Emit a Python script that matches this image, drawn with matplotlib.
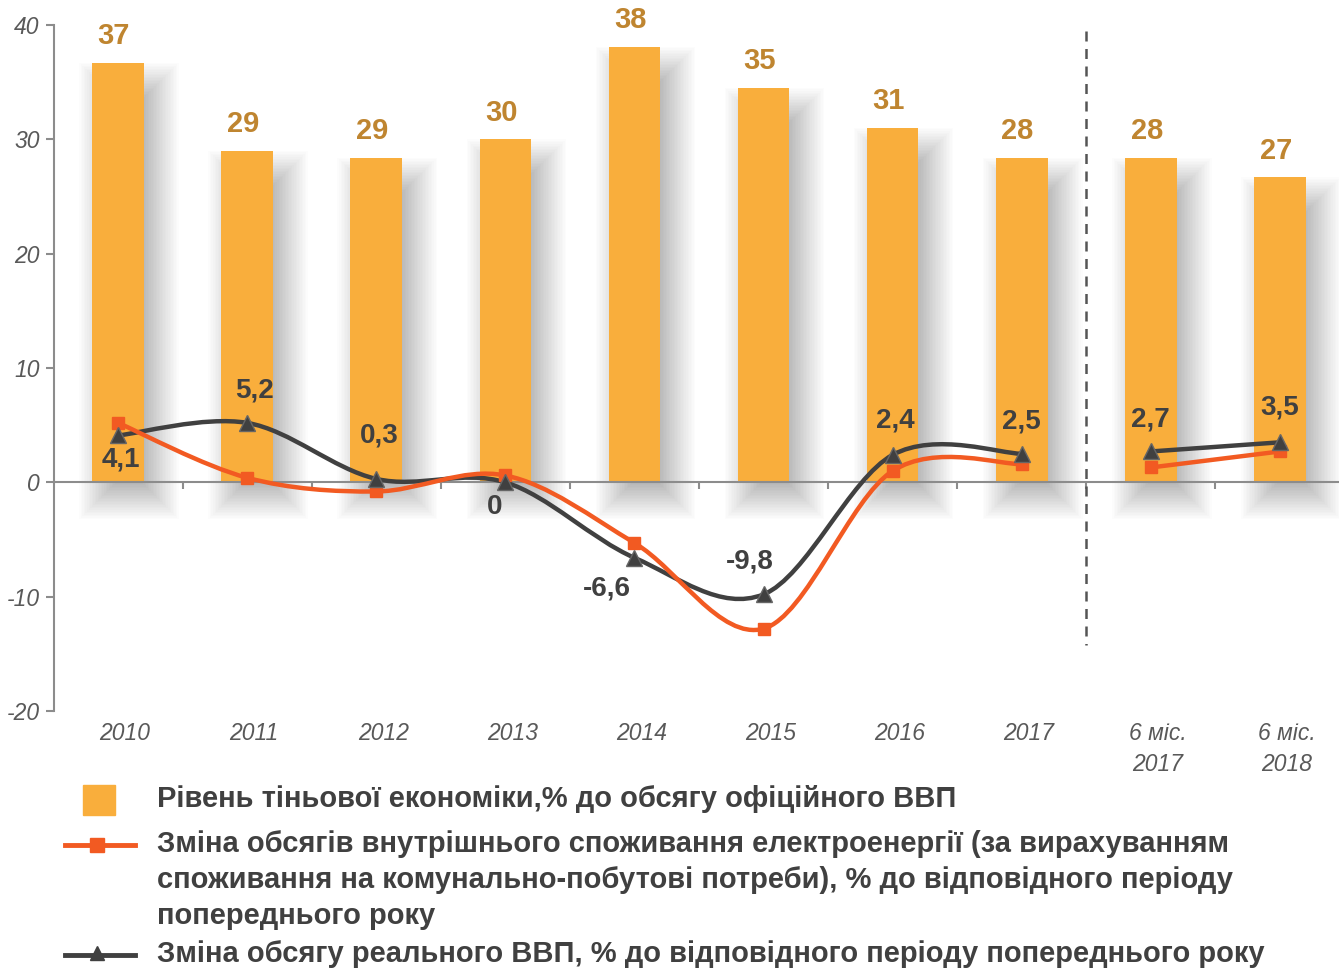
import matplotlib
matplotlib.use('Agg')
import matplotlib.pyplot as plt
from matplotlib.path import Path
from matplotlib.patches import PathPatch, Rectangle
from matplotlib.lines import Line2D
import numpy as np

# chart data
categories = ['2010', '2011', '2012', '2013', '2014', '2015', '2016', '2017',
              '6 міс.\n2017', '6 міс.\n2018']
shadow_level = [36.7, 29.0, 28.4, 30.0, 38.1, 34.5, 31.0, 28.4, 28.4, 26.7]
shadow_labels = ['37', '29', '29', '30', '38', '35', '31', '28', '28', '27']
electricity = [5.2, 0.4, -0.8, 0.6, -5.3, -12.8, 1.0, 1.6, 1.3, 2.7]
gdp = [4.1, 5.2, 0.3, 0.0, -6.6, -9.8, 2.4, 2.5, 2.7, 3.5]
gdp_labels = ['4,1', '5,2', '0,3', '0', '-6,6', '-9,8', '2,4', '2,5', '2,7', '3,5']
yticks = [-20, -10, 0, 10, 20, 30, 40]

legend_labels = [
    'Рівень тіньової економіки,% до обсягу офіційного ВВП',
    'Зміна обсягів внутрішнього споживання електроенергії (за вирахуванням\n'
    'споживання на комунально-побутові потреби), % до відповідного періоду\n'
    'попереднього року',
    'Зміна обсягу реального ВВП, % до відповідного періоду попереднього року',
]

# label offsets (points) for the GDP labels
gdp_offsets = [(2, -17), (5, 23), (2, 31), (-8, -18), (-20, -22), (-10, 24),
               (2, 25), (0, 23), (0, 23), (0, 25)]

BAR = '#F9AE3C'
BAR_TXT = '#BF8530'
RED = '#F25A22'
GREY = '#404040'
AXIS = '#8C8C8C'
TICK_TXT = '#595959'

W, H = 1339, 971
fig = plt.figure(figsize=(W / 100, H / 100), dpi=100)
ax = fig.add_axes([53.5 / W, 260 / H, 1291 / W, 686 / H])
ax.set_xlim(-0.5, 9.5)
ax.set_ylim(-20, 40)

x = np.arange(len(categories))
bw = 0.4
pxx = 1291 / 10.0   # pixels per x unit
pxy = 686 / 60.0    # pixels per y unit

# soft bar shadows (stacked translucent rectangles)
sx, sy, R = 11, 13, 24
for i, h in enumerate(shadow_level):
    for e in np.linspace(-R, R, 32):
        left = i - bw / 2 + (sx - e) / pxx
        right = i + bw / 2 + (sx + e) / pxx
        bot = -(sy + e) / pxy
        top = h - (24 - e) / pxy
        if right > left and top > bot:
            ax.add_patch(Rectangle((left, bot), right - left, top - bot,
                                   facecolor='black', alpha=0.013,
                                   edgecolor='none', zorder=1))

ax.bar(x, shadow_level, width=bw, color=BAR, zorder=2)
for i, h in enumerate(shadow_level):
    ax.annotate(shadow_labels[i], (i, h), xytext=(-3, 9), textcoords='offset points',
                ha='center', va='bottom', fontsize=21, fontweight='bold',
                color=BAR_TXT, family='Liberation Sans')


def smooth_path(xs, ys):
    pts = np.column_stack([xs, ys]).astype(float)
    n = len(pts)
    verts = [pts[0]]
    codes = [Path.MOVETO]
    for i in range(n - 1):
        p0 = pts[i - 1] if i > 0 else pts[i]
        p3 = pts[i + 2] if i + 2 < n else pts[i + 1]
        verts += [pts[i] + (pts[i + 1] - p0) / 6, pts[i + 1] - (p3 - pts[i]) / 6, pts[i + 1]]
        codes += [Path.CURVE4] * 3
    return Path(verts, codes)


for seg in (slice(0, 8), slice(8, 10)):
    ax.add_patch(PathPatch(smooth_path(x[seg], gdp[seg]), fill=False,
                           edgecolor=GREY, lw=3.2, zorder=3, capstyle='round'))
    ax.add_patch(PathPatch(smooth_path(x[seg], electricity[seg]), fill=False,
                           edgecolor=RED, lw=3.2, zorder=4, capstyle='round'))

ax.plot(x, electricity, ls='none', marker='s', ms=9, color=RED, zorder=5)
ax.plot(x, gdp, ls='none', marker='^', ms=11, color=GREY, mec='#666666', mew=1, zorder=6)

for i, v in enumerate(gdp):
    ax.annotate(gdp_labels[i], (i, v), xytext=gdp_offsets[i], textcoords='offset points',
                ha='center', va='center', fontsize=20, fontweight='bold', color=GREY,
                family='Liberation Sans', zorder=7)

# dashed separator
ax.plot([7.5, 7.5], [39.5, -14.2], ls=(0, (4, 3)), color='#555555', lw=1.8, zorder=3)

# axes styling
for s in ['top', 'right']:
    ax.spines[s].set_visible(False)
ax.spines['left'].set_color(AXIS)
ax.spines['left'].set_linewidth(1.5)
ax.spines['bottom'].set_position(('data', 0))
ax.spines['bottom'].set_color(AXIS)
ax.spines['bottom'].set_linewidth(1.5)
ax.spines['bottom'].set_zorder(2.5)
ax.set_yticks(yticks)
ax.set_yticklabels([str(t) for t in yticks], fontsize=16.5, style='italic',
                   color=TICK_TXT, family='Liberation Sans')
ax.tick_params(axis='y', length=6, width=1.5, color=AXIS, pad=4)
ax.set_xticks(np.arange(0.5, 9.5, 1.0))
ax.set_xticklabels([])
ax.tick_params(axis='x', length=5, width=1.5, color=AXIS, direction='out')

for i, c in enumerate(categories):
    ax.annotate(c, (i, 0), xycoords=('data', 'axes fraction'), xytext=(5, -8),
                textcoords='offset points', ha='center', va='top', fontsize=16.5,
                style='italic', color=TICK_TXT, linespacing=1.45,
                family='Liberation Sans')

# legend drawn by hand
fig.patches.append(Rectangle((83 / W, 1 - 815 / H), 32 / W, 30 / H, color=BAR,
                             transform=fig.transFigure, figure=fig))
fig.add_artist(Line2D([65 / W, 135 / W], [1 - 845 / H] * 2, color=RED, lw=3.5))
fig.add_artist(Line2D([97 / W], [1 - 845 / H], color=RED, marker='s', ms=10))
fig.add_artist(Line2D([65 / W, 135 / W], [1 - 955 / H] * 2, color=GREY, lw=3.5))
fig.add_artist(Line2D([97 / W], [1 - 953 / H], color=GREY, marker='^', ms=10))

legend_y = [800, 845, 955]
for lab, yy in zip(legend_labels, legend_y):
    fig.text(157 / W, 1 - (yy - 15) / H, lab, ha='left', va='top', fontsize=21,
             fontweight='bold', color=GREY, family='Liberation Sans', linespacing=1.36)

fig.savefig('out.png', dpi=100)
